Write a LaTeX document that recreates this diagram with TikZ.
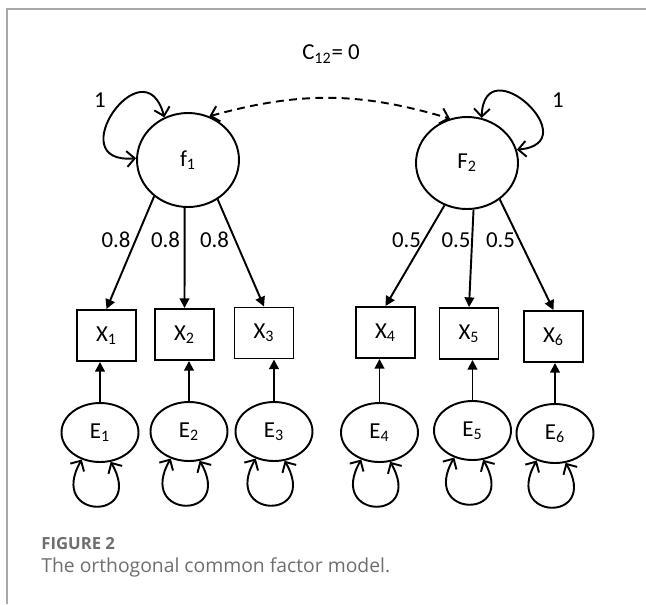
\documentclass[tikz,border=0pt]{standalone}
\usepackage{fontspec}
\setmainfont{Carlito}
\newfontfamily\captionfont{Open Sans}
\usepackage{tikz}
\usetikzlibrary{shapes.geometric}
\usetikzlibrary{arrows.meta}

\definecolor{framegray}{HTML}{A8A8A8}
\definecolor{captiongray}{HTML}{6E6E6E}

\begin{document}
\begin{tikzpicture}[
        every node/.style={font=\fontsize{13}{15}\selectfont},
        latent/.style={draw, ellipse, line width=1.1pt, inner sep=0pt, minimum width=2.04cm, minimum height=1.88cm},
        errnode/.style={draw, ellipse, line width=1.1pt, inner sep=0pt, minimum width=1.54cm, minimum height=1.18cm},
        manifest/.style={draw, rectangle, line width=1.1pt, minimum width=1.18cm, minimum height=1.02cm},
        load/.style={line width=1.1pt, -{Triangle[length=5.5pt, width=5.5pt]}},
        var/.style={line width=1.1pt, {Straight Barb[length=4.5pt, width=9pt]}-{Straight Barb[length=4.5pt, width=9pt]}},
        capline/.style={anchor=west, inner sep=0pt, text=captiongray}
    ]
        \useasboundingbox (0, 0) rectangle (12.92, -12.08);
        \draw[framegray, line width=0.85pt] (0.14, -12.08) -- (0.14, -0.18) -- (12.92, -0.18);

        \node (c12) at (6.62, -1.08) {C\textsubscript{12}= 0};

        \node[latent] (f1) at (3.76, -3.2)  {f\textsubscript{1}};
        \node[latent, minimum height=1.84cm] (F2) at (9.34, -3.26) {F\textsubscript{2}};

        \node[manifest] (X1) at (2.13, -6.71)  {X\textsubscript{1}};
        \node[manifest] (X2) at (3.69, -6.69)  {X\textsubscript{2}};
        \node[manifest] (X3) at (5.28, -6.66)  {X\textsubscript{3}};
        \node[manifest] (X4) at (7.71, -6.65)  {X\textsubscript{4}};
        \node[manifest] (X5) at (9.38, -6.67)  {X\textsubscript{5}};
        \node[manifest] (X6) at (11.07, -6.73) {X\textsubscript{6}};

        \node[errnode] (E1) at (2.0, -8.65)   {E\textsubscript{1}};
        \node[errnode] (E2) at (3.78, -8.63)  {E\textsubscript{2}};
        \node[errnode] (E3) at (5.48, -8.63)  {E\textsubscript{3}};
        \node[errnode] (E4) at (7.59, -8.65)  {E\textsubscript{4}};
        \node[errnode] (E5) at (9.45, -8.61)  {E\textsubscript{5}};
        \node[errnode] (E6) at (11.1, -8.67)  {E\textsubscript{6}};

        % factor variances and the covariance between the factors
        \draw[var] (f1.119) to[out=105, in=185, looseness=4] (f1.178);
        \draw[var] (F2.72) to[out=88, in=5, looseness=3.9] (F2.15);
        \draw[var, dash pattern=on 4.5pt off 3pt] (f1.64) to[bend left=16] (F2.111);
        \node (v1) at (2.0, -2.0)   {1};
        \node (v2) at (11.16, -2.0) {1};

        % loadings
        \draw[load] (f1.227) -- (X1.north);
        \draw[load] (f1.266) -- (X2.north);
        \draw[load] (f1.307) -- (X3.north);
        \draw[load] (F2.242) -- (X4.north);
        \draw[load] (F2.278) -- (X5.north);
        \draw[load] (F2.312) -- (X6.north);
        \node (l1) at (2.32, -4.8)  {0.8};
        \node (l2) at (3.31, -4.8)  {0.8};
        \node (l3) at (4.29, -4.8)  {0.8};
        \node (l4) at (8.13, -4.8)  {0.5};
        \node (l5) at (9.12, -4.8)  {0.5};
        \node (l6) at (10.01, -4.8) {0.5};

        % errors
        \draw[load] (E1.north) -- (E1.north |- X1.south);
        \draw[load] (E2.north) -- (E2.north |- X2.south);
        \draw[load] (E3.north) -- (E3.north |- X3.south);
        \draw[load] (E4.north) -- (E4.north |- X4.south);
        \draw[load] (E5.north) -- (E5.north |- X5.south);
        \draw[load] (E6.north) -- (E6.north |- X6.south);
        \draw[var] (E1.236) to[out=-120, in=-60, looseness=6.2] (E1.290);
        \draw[var] (E2.236) to[out=-120, in=-60, looseness=6.2] (E2.290);
        \draw[var] (E3.236) to[out=-120, in=-60, looseness=6.2] (E3.290);
        \draw[var] (E4.236) to[out=-120, in=-60, looseness=6.2] (E4.290);
        \draw[var] (E5.236) to[out=-120, in=-60, looseness=6.2] (E5.290);
        \draw[var] (E6.236) to[out=-120, in=-60, looseness=6.2] (E6.290);

        \node[capline, font=\captionfont\bfseries\fontsize{9.5}{11}\selectfont] (figno) at (0.82, -10.88) {FIGURE 2};
        \node[capline, font=\captionfont\fontsize{11}{13}\selectfont] (figtext) at (0.82, -11.34) {The orthogonal common factor model.};
    \end{tikzpicture}
\end{document}
